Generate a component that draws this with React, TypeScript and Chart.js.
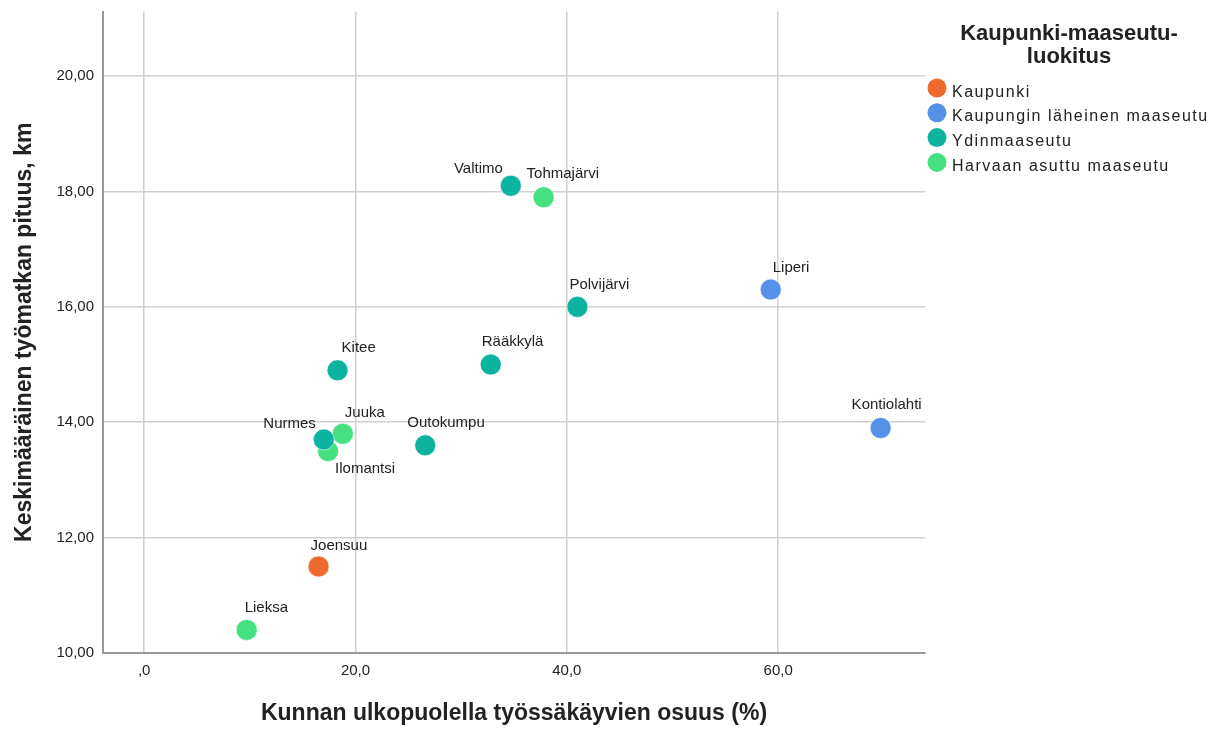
import React, { useEffect, useRef } from "react";
import { Chart, registerables } from "chart.js";

Chart.register(...registerables);

// ---- Data ----
const municipalities = [
  "Joensuu",
  "Liperi",
  "Kontiolahti",
  "Kitee",
  "Nurmes",
  "Outokumpu",
  "Rääkkylä",
  "Valtimo",
  "Polvijärvi",
  "Lieksa",
  "Juuka",
  "Ilomantsi",
  "Tohmajärvi",
];
const outsideShare = [16.5, 59.3, 69.7, 18.3, 17.0, 26.6, 32.8, 34.7, 41.0, 9.7, 18.8, 17.4, 37.8];
const commuteKm = [11.5, 16.3, 13.9, 14.9, 13.7, 13.6, 15.0, 18.1, 16.0, 10.4, 13.8, 13.5, 17.9];
const classOf = [0, 1, 1, 2, 2, 2, 2, 2, 2, 3, 3, 3, 3];

const categories = ["Kaupunki", "Kaupungin läheinen maaseutu", "Ydinmaaseutu", "Harvaan asuttu maaseutu"];
const categoryColors = ["#F0692D", "#5591E8", "#0DB39E", "#45E07F"];

const legendTitleLines = ["Kaupunki-maaseutu-", "luokitus"];
const xTitle = "Kunnan ulkopuolella työssäkäyvien osuus (%)";
const yTitle = "Keskimääräinen työmatkan pituus, km";

const xTicks = [0, 20, 40, 60];
const xTickLabels = [",0", "20,0", "40,0", "60,0"];
const yTicks = [10, 12, 14, 16, 18, 20];
const yTickLabels = ["10,00", "12,00", "14,00", "16,00", "18,00", "20,00"];
const xRange = [-3.9, 73.9];
const yRange = [10, 21.12];

// label placement (annotation styling): align, dx, dy relative to point center
const labelPlacement: Record<string, { align: CanvasTextAlign; dx: number; dy: number }> = {
  Joensuu: { align: "left", dx: -8, dy: -21 },
  Liperi: { align: "left", dx: 2, dy: -22 },
  Kontiolahti: { align: "left", dx: -29, dy: -23 },
  Kitee: { align: "left", dx: 4, dy: -22 },
  Nurmes: { align: "right", dx: -8, dy: -16 },
  Outokumpu: { align: "left", dx: -18, dy: -22 },
  Rääkkylä: { align: "left", dx: -9, dy: -23 },
  Valtimo: { align: "right", dx: -8, dy: -17 },
  Polvijärvi: { align: "left", dx: -8, dy: -22 },
  Lieksa: { align: "left", dx: -2, dy: -22 },
  Juuka: { align: "left", dx: 2, dy: -21 },
  Ilomantsi: { align: "left", dx: 7, dy: 18 },
  Tohmajärvi: { align: "left", dx: -17, dy: -23 },
};

const FONT = "'Liberation Sans', Arial, sans-serif";
const TEXT = "#222222";

const overlayPlugin = {
  id: "overlay",
  afterDatasetsDraw(chart: any) {
    const ctx: CanvasRenderingContext2D = chart.ctx;
    ctx.save();
    ctx.fillStyle = TEXT;
    ctx.font = `15px ${FONT}`;
    ctx.textBaseline = "middle";
    chart.data.datasets.forEach((ds: any, di: number) => {
      const meta = chart.getDatasetMeta(di);
      meta.data.forEach((el: any, i: number) => {
        const name = ds.names[i];
        const p = labelPlacement[name] || { align: "left", dx: -8, dy: -22 };
        ctx.textAlign = p.align;
        ctx.fillText(name, el.x + p.dx, el.y + p.dy);
      });
    });
    ctx.restore();
  },
  afterDraw(chart: any) {
    const ctx: CanvasRenderingContext2D = chart.ctx;
    const area = chart.chartArea;
    ctx.save();
    ctx.fillStyle = TEXT;
    // axis titles
    ctx.font = `bold 23px ${FONT}`;
    ctx.textAlign = "center";
    ctx.textBaseline = "middle";
    ctx.fillText(xTitle, (area.left + area.right) / 2, 714);
    ctx.save();
    ctx.translate(25, (area.top + area.bottom) / 2);
    ctx.rotate(-Math.PI / 2);
    ctx.fillText(yTitle, 0, 0);
    ctx.restore();

    // legend title
    ctx.font = `bold 22px ${FONT}`;
    ctx.textAlign = "center";
    ctx.textBaseline = "alphabetic";
    ctx.fillText(legendTitleLines[0], 1069, 40);
    ctx.fillText(legendTitleLines[1], 1069, 63);

    // legend items
    ctx.font = `16px ${FONT}`;
    ctx.textAlign = "left";
    (ctx as any).letterSpacing = "1.5px";
    categories.forEach((c, i) => {
      const cy = 88 + i * 24.8;
      ctx.beginPath();
      ctx.arc(937, cy, 9.5, 0, Math.PI * 2);
      ctx.fillStyle = categoryColors[i];
      ctx.fill();
      ctx.fillStyle = TEXT;
      ctx.fillText(c, 952, cy + 8.5);
    });
    (ctx as any).letterSpacing = "0px";
    ctx.restore();
  },
};

export default function App() {
  const ref = useRef<HTMLCanvasElement | null>(null);

  useEffect(() => {
    document.body.style.margin = "0";
    if (!ref.current) return;
    const datasets = categories.map((cat, ci) => {
      const idx = municipalities.map((_, i) => i).filter((i) => classOf[i] === ci);
      return {
        label: cat,
        names: idx.map((i) => municipalities[i]),
        data: idx.map((i) => ({ x: outsideShare[i], y: commuteKm[i] })),
        backgroundColor: categoryColors[ci],
        borderColor: "rgba(255,255,255,0.55)",
        borderWidth: 1,
        pointRadius: 10.5,
        pointHoverRadius: 10.5,
      };
    });

    const chart = new Chart(ref.current, {
      type: "scatter",
      data: { datasets: datasets as any },
      plugins: [overlayPlugin],
      options: {
        animation: false,
        responsive: true,
        maintainAspectRatio: false,
        events: [],
        layout: { padding: { top: 7, right: 291, left: 0, bottom: 0 } },
        plugins: {
          legend: { display: false },
          tooltip: { enabled: false },
          title: { display: false },
        },
        scales: {
          x: {
            type: "linear",
            min: xRange[0],
            max: xRange[1],
            afterBuildTicks: (s: any) => {
              s.ticks = xTicks.map((v) => ({ value: v }));
            },
            afterFit: (s: any) => {
              s.height = 78;
              s.paddingLeft = 0;
              s.paddingRight = 0;
            },
            ticks: {
              autoSkip: false,
              maxRotation: 0,
              padding: 9,
              color: TEXT,
              font: { size: 15, family: FONT },
              callback: (_v: any, i: number) => xTickLabels[i],
            },
            grid: { color: "#d0d0d0", lineWidth: 1.5, drawTicks: false },
            border: { display: true, color: "#9a9a9a", width: 2 },
          },
          y: {
            type: "linear",
            min: yRange[0],
            max: yRange[1],
            afterBuildTicks: (s: any) => {
              s.ticks = yTicks.map((v) => ({ value: v }));
            },
            afterFit: (s: any) => {
              s.width = 103;
              s.paddingTop = 0;
              s.paddingBottom = 0;
            },
            ticks: {
              autoSkip: false,
              padding: 9,
              color: TEXT,
              font: { size: 15, family: FONT },
              callback: (_v: any, i: number) => yTickLabels[i],
            },
            grid: { color: "#d0d0d0", lineWidth: 1.5, drawTicks: false },
            border: { display: true, color: "#9a9a9a", width: 2 },
          },
        },
      } as any,
    });
    return () => chart.destroy();
  }, []);

  return (
    <div style={{ position: "relative", width: 1216, height: 731 }}>
      <canvas ref={ref} />
    </div>
  );
}
